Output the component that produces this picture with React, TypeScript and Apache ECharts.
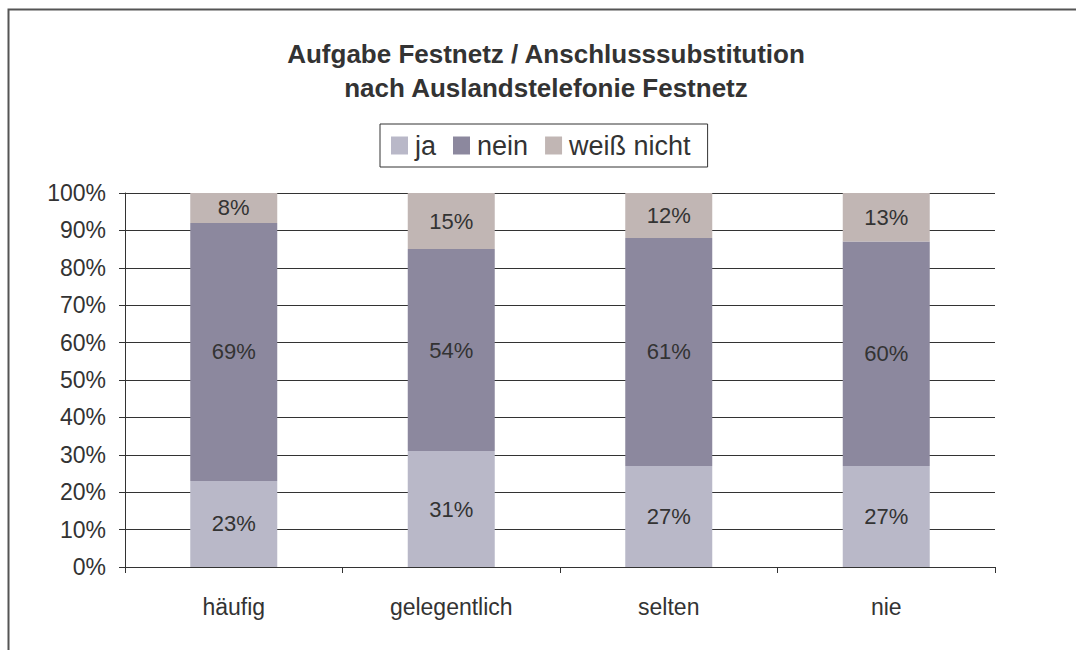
import React, { useEffect, useRef } from "react";
import * as echarts from "echarts";

const categories = ["häufig", "gelegentlich", "selten", "nie"];
const jaValues = [23, 31, 27, 27];
const neinValues = [69, 54, 61, 60];
const weissNichtValues = [8, 15, 12, 13];
const yTicks = { min: 0, max: 100, interval: 10 };
const titleLines = ["Aufgabe Festnetz / Anschlusssubstitution", "nach Auslandstelefonie Festnetz"];

const FONT = "'Liberation Sans', Arial, sans-serif";
const TXT = "#333333";

export default function App() {
  const ref = useRef<HTMLDivElement>(null);
  useEffect(() => {
    if (!ref.current) return;
    const chart = echarts.init(ref.current, undefined, { renderer: "svg" });
    const label = {
      show: true,
      position: "inside",
      formatter: "{c}%",
      fontSize: 22,
      color: TXT,
      fontFamily: FONT,
    };
    const mk = (name: string, data: number[], color: string) => ({
      name,
      type: "bar",
      stack: "total",
      data,
      barWidth: "40%",
      itemStyle: { color },
      label,
    });
    chart.setOption({
      animation: false,
      backgroundColor: "#ffffff",
      textStyle: { fontFamily: FONT, color: TXT },
      title: {
        text: titleLines.join("\n"),
        top: 37,
        left: 546,
        textAlign: "center",
        padding: 0,
        textStyle: {
          fontSize: 26,
          fontWeight: "bold",
          color: TXT,
          fontFamily: FONT,
          lineHeight: 34,
        },
      },
      legend: {
        left: 380,
        top: 124,
        borderColor: "#333333",
        borderWidth: 1,
        borderRadius: 0,
        padding: [8, 17, 8, 11],
        itemWidth: 17,
        itemHeight: 18,
        itemGap: 17,
        icon: "rect",
        textStyle: { fontSize: 27, color: TXT, fontFamily: FONT, padding: [0, 0, 0, 2] },
        data: ["ja", "nein", "weiß nicht"],
      },
      grid: { left: 125, right: 81, top: 193, bottom: 83, containLabel: false },
      xAxis: {
        type: "category",
        data: categories,
        boundaryGap: true,
        axisLine: { show: true, lineStyle: { color: TXT, width: 1 } },
        axisTick: { show: true, length: 6, lineStyle: { color: TXT } },
        axisLabel: { fontSize: 23, color: TXT, margin: 28, fontFamily: FONT },
      },
      yAxis: {
        type: "value",
        min: yTicks.min,
        max: yTicks.max,
        interval: yTicks.interval,
        axisLine: { show: true, lineStyle: { color: TXT, width: 1 } },
        axisTick: { show: true, length: 6, lineStyle: { color: TXT } },
        axisLabel: { fontSize: 23, color: TXT, margin: 19, formatter: "{value}%", fontFamily: FONT },
        splitLine: { show: true, lineStyle: { color: TXT, width: 1 } },
      },
      graphic: [
        {
          type: "rect",
          shape: { x: 8.5, y: 9.5, width: 1200, height: 800 },
          style: { fill: "none", stroke: "#555555", lineWidth: 2 },
          silent: true,
        },
      ],
      series: [
        mk("ja", jaValues, "#B9B8C8"),
        mk("nein", neinValues, "#8C889E"),
        mk("weiß nicht", weissNichtValues, "#C1B6B4"),
      ],
    });
    return () => chart.dispose();
  }, []);
  return (
    <div
      ref={ref}
      style={{ position: "fixed", left: 0, top: 0, width: 1076, height: 650 }}
    />
  );
}
